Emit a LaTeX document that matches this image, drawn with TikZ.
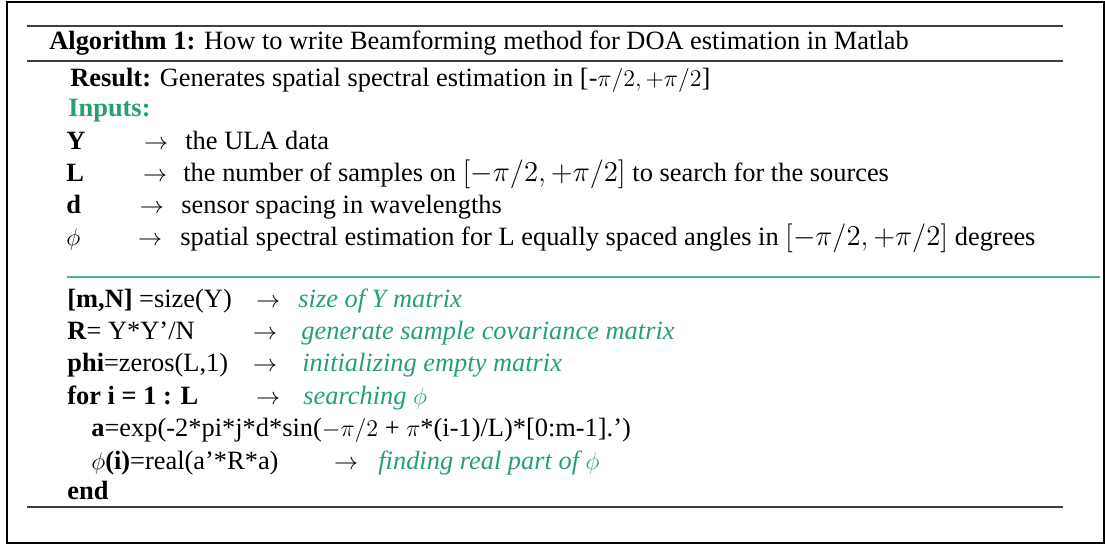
\documentclass[tikz,border=0pt]{standalone}
\usepackage[no-math]{fontspec}
\setmainfont{Liberation Serif}
\definecolor{algogreen}{RGB}{38,160,110}
\newcommand{\bigrange}{{\fontsize{14.0}{16}\selectfont$[-\pi/2,+\pi/2]$}}
\begin{document}
\begin{tikzpicture}[x=0.5pt,y=-0.5pt,
  txt/.style={anchor=base west,inner sep=0pt,font=\fontsize{13.2}{16}\selectfont},
  arr/.style={anchor=base,inner sep=0pt,font=\fontsize{13.2}{16}\selectfont},
  cmt/.style={anchor=base west,inner sep=0pt,font=\fontsize{13.2}{16}\selectfont\itshape,text=algogreen},
  rulethick/.style={line width=1pt,draw=black!75},
  rulethin/.style={line width=0.8pt,draw=black!75}]
\useasboundingbox (0,0) rectangle (1105,545);
\draw[line width=1pt] (7,2) rectangle (1104,543);
% rules
\draw[rulethick] (27,26) -- (1063,26);
\draw[rulethin] (27,61) -- (1063,61);
\draw[line width=0.7pt,draw=algogreen!80] (67,277) -- (1100,277);
\draw[rulethick] (27,507) -- (1063,507);
% title
\node[txt] (title) at (49,50) {\textbf{Algorithm 1:} How to write Beamforming method for DOA estimation in Matlab};
\node[txt] (result) at (70,87) {\textbf{Result:} Generates spatial spectral estimation in [-$\pi/2, +\pi/2$]};
\node[txt,text=algogreen] (inputs) at (68,117) {\textbf{Inputs:}};
% inputs
\node[txt] (yv) at (66,150) {\textbf{Y}};
\node[arr] (ya) at (156,150) {$\rightarrow$};
\node[txt] (yt) at (185,150) {the ULA data};
\node[txt] (lv) at (66,182) {\textbf{L}};
\node[arr] (la) at (155,182) {$\rightarrow$};
\node[txt] (lt) at (183,182) {the number of samples on \bigrange{} to search for the sources};
\node[txt] (dv) at (66,214) {\textbf{d}};
\node[arr] (da) at (152,214) {$\rightarrow$};
\node[txt] (dt) at (181,214) {sensor spacing in wavelengths};
\node[txt] (pv) at (66,246) {$\phi$};
\node[arr] (pa) at (150,246) {$\rightarrow$};
\node[txt] (pt) at (180,246) {spatial spectral estimation for L equally spaced angles in \bigrange{} degrees};
% code
\node[txt] (c1) at (67,308) {\textbf{[m,N]} =size(Y)};
\node[arr] (c1a) at (268,308) {$\rightarrow$};
\node[cmt] (c1c) at (298,308) {size of Y matrix};
\node[txt] (c2) at (67,340) {\textbf{R}= Y*Y’/N};
\node[arr] (c2a) at (265,340) {$\rightarrow$};
\node[cmt] (c2c) at (301,340) {generate sample covariance matrix};
\node[txt] (c3) at (67,372) {\textbf{phi}=zeros(L,1)};
\node[arr] (c3a) at (265,372) {$\rightarrow$};
\node[cmt] (c3c) at (302,372) {initializing empty matrix};
\node[txt] (c4) at (67,405) {\textbf{for i = 1 : L}};
\node[arr] (c4a) at (268,405) {$\rightarrow$};
\node[cmt] (c4c) at (303,405) {searching $\phi$};
\node[txt] (c5) at (91,437) {\textbf{a}=exp(-2*pi*j*d*sin($-\pi/2$ + $\pi$*(i-1)/L)*[0:m-1].’)};
\node[txt] (c6) at (91,470) {$\phi$\textbf{(i)}=real(a’*R*a)};
\node[arr] (c6a) at (346,470) {$\rightarrow$};
\node[cmt] (c6c) at (378,470) {finding real part of $\phi$};
\node[txt] (c7) at (67,500) {\textbf{end}};
\end{tikzpicture}
\end{document}
